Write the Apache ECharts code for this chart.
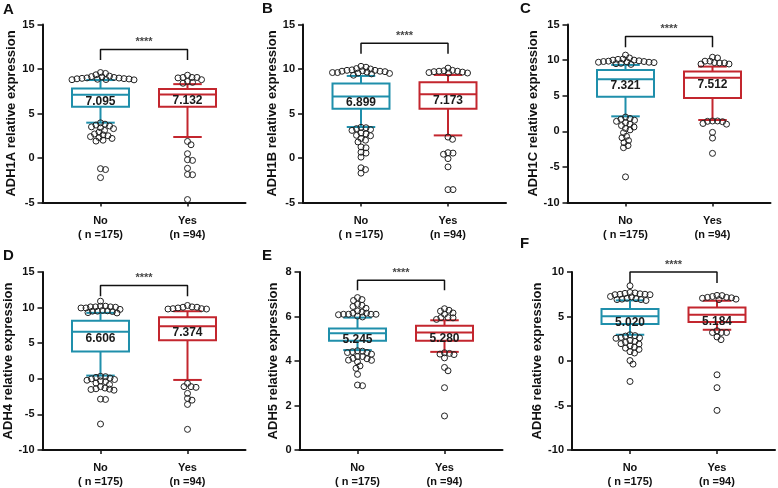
<!DOCTYPE html>
<html><head><meta charset="utf-8">
<script src="https://cdn.jsdelivr.net/npm/echarts@6/dist/echarts.min.js"></script>
<style>html,body{margin:0;padding:0;background:#fff}#c{width:778px;height:488px}</style>
</head><body><div id="c"></div><script>
// ---------- data ----------
const categories = ['No', 'Yes'];
const groupSizeLabels = ['( n =175)', '(n =94)'];
const genes = ['ADH1A', 'ADH1B', 'ADH1C', 'ADH4', 'ADH5', 'ADH6'];
const panelLetters = ['A', 'B', 'C', 'D', 'E', 'F'];
const yMins = [-5, -5, -10, -10, 0, -10];
const yMaxs = [15, 15, 15, 15, 8, 10];
const yIntervals = [5, 5, 5, 5, 2, 5];
const significance = '****';

// box stats: [lower whisker, Q1, median, Q3, upper whisker]
const adh1aBoxNo  = [3.97, 5.76, 7.095, 7.80, 8.76];
const adh1aBoxYes = [2.36, 5.76, 7.132, 7.75, 8.30];
const adh1bBoxNo  = [3.48, 5.54, 6.899, 8.36, 9.22];
const adh1bBoxYes = [2.54, 5.54, 7.173, 8.51, 9.33];
const adh1cBoxNo  = [2.10, 4.87, 7.321, 8.62, 9.32];
const adh1cBoxYes = [1.59, 4.68, 7.512, 8.39, 9.09];
const adh4BoxNo   = [0.45, 3.84, 6.606, 8.17, 9.26];
const adh4BoxYes  = [-0.16, 5.40, 7.374, 8.64, 9.49];
const adh5BoxNo   = [4.49, 4.91, 5.245, 5.46, 5.95];
const adh5BoxYes  = [4.41, 4.91, 5.280, 5.58, 5.83];
const adh6BoxNo   = [2.95, 4.15, 5.020, 5.83, 6.81];
const adh6BoxYes  = [3.51, 4.37, 5.184, 6.02, 6.77];

// points outside the whiskers
const adh1aPointsNo = [8.78, 8.8, 8.82, 8.85, 8.88, 8.9, 8.92, 8.95, 8.98, 9.0, 9.05, 9.1, 9.15, 9.2, 9.35, 9.5, 9.6,
  3.95, 3.8, 3.7, 3.6, 3.5, 3.4, 3.3, 3.1, 2.9, 2.7, 2.6, 2.5, 2.4, 2.3, 2.2, 2.0, 1.9, -1.2, -1.3, -2.2];
const adh1aPointsYes = [9.05, 9.05, 9.05, 9.3, 8.6, 8.4, 8.8, 8.5, 9.0,
  1.86, 1.49, 0.48, -0.27, -0.19, -1.16, -1.85, -1.88, -4.67];
const adh1bPointsNo = [9.3, 9.5, 9.6, 9.65, 9.7, 9.75, 9.8, 9.85, 9.9, 9.55, 9.6, 10.0, 10.05, 10.2, 10.3, 9.45, 9.75, 9.85,
  3.45, 3.4, 3.3, 3.2, 3.1, 2.8, 2.7, 2.55, 2.5, 2.2, 2.0, 1.8, 1.25, 1.15, 0.65, 0.55, 0.1, -1.1, -1.3, -1.7];
const adh1bPointsYes = [10.1, 9.85, 9.8, 9.75, 9.7, 9.6, 9.65, 9.75, 9.55, 9.55,
  2.35, 2.1, 0.42, -0.07, 0.55, 0.6, -1.0, -3.55, -3.55];
const adh1cPointsNo = [9.4, 9.55, 9.7, 9.85, 10.3, 10.0, 9.7, 9.5, 10.7, 9.8, 10.1, 9.65, 10.15, 9.8, 9.75, 10.0, 9.9,
  2.0, 1.8, 1.7, 1.55, 1.4, 1.2, 1.0, 0.8, 0.6, 0.4, 0.2, -0.2, -0.7, -0.9, -1.3, -1.6, -2.0, -2.3, -6.4];
const adh1cPointsYes = [9.85, 9.6, 9.45, 10.4, 9.65, 10.3, 9.85, 9.45, 9.6,
  1.1, 1.0, 1.35, 1.45, 1.45, 1.4, -0.15, -0.95, -3.1];
const adh4PointsNo = [9.25, 9.5, 9.75, 9.95, 10.1, 10.2, 9.5, 9.55, 10.9, 9.45, 9.6, 10.1, 10.2, 9.95, 10.05, 9.3, 10.1,
  0.35, 0.3, 0.2, 0.1, 0.0, -0.1, -0.2, -0.3, -0.4, -0.6, -0.8, -1.1, -1.3, -1.4, -1.45, -1.5, -1.6, -2.85, -2.9, -6.35];
const adh4PointsYes = [10.3, 10.1, 10.05, 9.95, 9.85, 9.8, 10.05, 9.85, 9.8,
  -0.65, -1.2, -1.1, -1.1, -2.05, -2.75, -3.0, -3.6, -7.1];
const adh5PointsNo = [5.98, 6.1, 6.15, 6.2, 6.1, 6.08, 6.76, 6.85, 6.45, 6.72, 6.5, 6.55, 6.37, 6.15, 6.1, 6.1, 6.25, 6.02,
  4.46, 4.42, 4.38, 4.31, 4.2, 4.12, 4.44, 4.2, 4.38, 3.96, 4.04, 4.03, 3.78, 3.67, 3.4, 2.92, 2.89, 4.1];
const adh5PointsYes = [6.1, 5.95, 6.35, 5.87, 6.28, 6.16, 6.24, 5.94, 5.95,
  4.14, 4.29, 4.37, 4.34, 4.31, 3.71, 3.56, 2.8, 1.53];
const adh6PointsNo = [6.8, 7.25, 7.45, 7.55, 7.2, 7.7, 8.45, 7.65, 6.95, 7.5, 7.45, 7.5, 6.9, 7.6, 7.0, 7.05, 6.9,
  2.95, 2.85, 2.8, 2.65, 2.6, 2.55, 2.3, 2.2, 2.1, 1.95, 1.9, 1.7, 1.55, 1.45, 1.3, 1.05, 0.9, 0.05, -0.35, -2.3];
const adh6PointsYes = [7.37, 7.35, 7.25, 7.15, 7.05, 6.9, 7.15, 6.95, 7.1,
  3.2, 3.4, 3.2, 3.2, 2.7, 2.4, -1.55, -3.0, -5.55];

// significance bracket levels (data units): top of bracket, end of drops
const bracketTops  = [12.2, 12.9, 13.3, 13.1, 7.63, 10.0];
const bracketDrops = [11.0, 11.7, 11.8, 11.6, 7.18, 8.76];

// ---------- layout / style ----------
const FONT = 'Liberation Sans, Arial, sans-serif';
const groupColors = ['#1f8fab', '#c3262e'];
const panelLefts = [42.5, 303, 567.5, 42.5, 299.5, 572];
const panelTops = [24.5, 24.5, 24.5, 272, 272, 272];
const nameGaps = [23, 23.5, 25.5, 23, 20, 28.5];
const letterPos = [[3, 2], [262, 1], [520, 1], [3, 248], [262, 248], [520, 236]];
const gridW = 203, gridH = 178;
const xMin = -2 / 3, xMax = 5 / 3;
const boxFrac = 0.655;   // box width as fraction of category spacing
const swarmDiam = 4.6;   // collision distance (px) for the beeswarm layout

const boxes = [[adh1aBoxNo, adh1aBoxYes], [adh1bBoxNo, adh1bBoxYes], [adh1cBoxNo, adh1cBoxYes],
  [adh4BoxNo, adh4BoxYes], [adh5BoxNo, adh5BoxYes], [adh6BoxNo, adh6BoxYes]];
const points = [[adh1aPointsNo, adh1aPointsYes], [adh1bPointsNo, adh1bPointsYes], [adh1cPointsNo, adh1cPointsYes],
  [adh4PointsNo, adh4PointsYes], [adh5PointsNo, adh5PointsYes], [adh6PointsNo, adh6PointsYes]];

// simple beeswarm: horizontal offsets (px) so circles don't pile up
function swarm(values, pxPerY, diam) {
  const order = values.map((v, i) => i).sort((a, b) => values[b] - values[a]);
  const placed = [];
  const offs = new Array(values.length);
  for (const i of order) {
    const y = values[i] * pxPerY;
    let best = 0;
    for (let k = 0; k < 400; k++) {
      const cand = k === 0 ? 0 : (k % 2 ? 1 : -1) * Math.ceil(k / 2) * 0.5;
      if (placed.every(p => Math.hypot(p.x - cand, p.y - y) >= diam)) { best = cand; break; }
    }
    placed.push({ x: best, y });
    offs[i] = best;
  }
  return offs;
}

const grids = [], xAxes = [], yAxes = [], series = [], titles = [];
const pxPerX = gridW / (xMax - xMin);

genes.forEach((gene, p) => {
  grids.push({ left: panelLefts[p], top: panelTops[p], width: gridW, height: gridH, containLabel: false, outerBoundsMode: 'none' });
  xAxes.push({
    type: 'value', gridIndex: p, min: xMin, max: xMax,
    axisLine: { show: true, onZero: false, lineStyle: { color: '#111', width: 2 } },
    axisTick: { show: true, customValues: [0, 1], length: 4, lineStyle: { color: '#111', width: 1.5 } },
    axisLabel: {
      show: true, customValues: [0, 1], margin: 11,
      fontFamily: FONT, fontSize: 11, fontWeight: 'bold', color: '#111', lineHeight: 14,
      formatter: v => {
        const i = Math.round(v);
        if (Math.abs(v - i) > 1e-6 || i < 0 || i > 1) return '';
        return categories[i] + '\n' + groupSizeLabels[i];
      }
    },
    splitLine: { show: false }
  });
  yAxes.push({
    type: 'value', gridIndex: p, min: yMins[p], max: yMaxs[p], interval: yIntervals[p],
    name: gene + ' relative expression', nameLocation: 'middle', nameGap: nameGaps[p],
    nameTextStyle: { fontFamily: FONT, fontSize: 13, fontWeight: 'bold', color: '#111' },
    axisLine: { show: true, onZero: false, lineStyle: { color: '#111', width: 2 } },
    axisTick: { show: true, length: 5, lineStyle: { color: '#111', width: 1.5 } },
    axisLabel: { fontFamily: FONT, fontSize: 11, fontWeight: 'bold', color: '#111', margin: 8 },
    splitLine: { show: false }
  });
  titles.push({ text: panelLetters[p], left: letterPos[p][0], top: letterPos[p][1], padding: 0,
    textStyle: { fontFamily: FONT, fontSize: 15, fontWeight: 'bold', color: '#111' } });

  // boxes
  series.push({
    type: 'custom', xAxisIndex: p, yAxisIndex: p, z: 2, silent: true,
    data: boxes[p].map((b, i) => [i].concat(b)),
    renderItem: (params, api) => {
      const x = api.value(0);
      const lo = api.coord([x, api.value(1)]);
      const q1 = api.coord([x, api.value(2)]);
      const med = api.coord([x, api.value(3)]);
      const q3 = api.coord([x, api.value(4)]);
      const hi = api.coord([x, api.value(5)]);
      const unit = api.size([1, 0])[0];
      const bw = unit * boxFrac, cw = bw / 2;
      const cx = med[0];
      const color = groupColors[x];
      const ls = { stroke: color, lineWidth: 2, fill: null };
      return {
        type: 'group', children: [
          { type: 'line', shape: { x1: cx, y1: hi[1], x2: cx, y2: q3[1] }, style: ls },
          { type: 'line', shape: { x1: cx, y1: q1[1], x2: cx, y2: lo[1] }, style: ls },
          { type: 'line', shape: { x1: cx - cw / 2, y1: hi[1], x2: cx + cw / 2, y2: hi[1] }, style: ls },
          { type: 'line', shape: { x1: cx - cw / 2, y1: lo[1], x2: cx + cw / 2, y2: lo[1] }, style: ls },
          { type: 'rect', shape: { x: cx - bw / 2, y: q3[1], width: bw, height: q1[1] - q3[1] }, style: { stroke: color, lineWidth: 2, fill: '#fff' } },
          { type: 'line', shape: { x1: cx - bw / 2, y1: med[1], x2: cx + bw / 2, y2: med[1] }, style: ls },
          { type: 'text', style: { text: api.value(3).toFixed(3), x: cx, y: med[1] + 6.5, align: 'center', verticalAlign: 'middle',
              font: 'bold 12px ' + FONT, fill: '#1a1a1a' } }
        ]
      };
    }
  });

  // points
  const pxPerY = gridH / (yMaxs[p] - yMins[p]);
  const dots = [];
  points[p].forEach((vals, g) => {
    const offs = swarm(vals, pxPerY, swarmDiam);
    vals.forEach((v, i) => dots.push([g + offs[i] / pxPerX, v]));
  });
  series.push({
    type: 'scatter', xAxisIndex: p, yAxisIndex: p, z: 3, silent: true,
    symbol: 'circle', symbolSize: 6,
    itemStyle: { color: 'rgba(255,255,255,0)', borderColor: '#222', borderWidth: 1, opacity: 1 },
    data: dots
  });

  // bracket
  series.push({
    type: 'line', xAxisIndex: p, yAxisIndex: p, z: 4, silent: true, clip: false,
    symbol: 'none', lineStyle: { color: '#111', width: 1.5 },
    data: [[0, bracketDrops[p]], [0, bracketTops[p]], [1, bracketTops[p]], [1, bracketDrops[p]]]
  });
  series.push({
    type: 'scatter', xAxisIndex: p, yAxisIndex: p, z: 4, silent: true, clip: false,
    symbolSize: 0,
    label: { show: true, position: 'top', distance: 2, formatter: significance,
      fontFamily: FONT, fontSize: 11, fontWeight: 'bold', color: '#111' },
    data: [[0.5, bracketTops[p]]]
  });
});

const chart = echarts.init(document.getElementById('c'), null, { renderer: 'canvas' });
chart.setOption({
  animation: false,
  backgroundColor: '#fff',
  title: titles,
  grid: grids, xAxis: xAxes, yAxis: yAxes, series: series
});
</script></body></html>
